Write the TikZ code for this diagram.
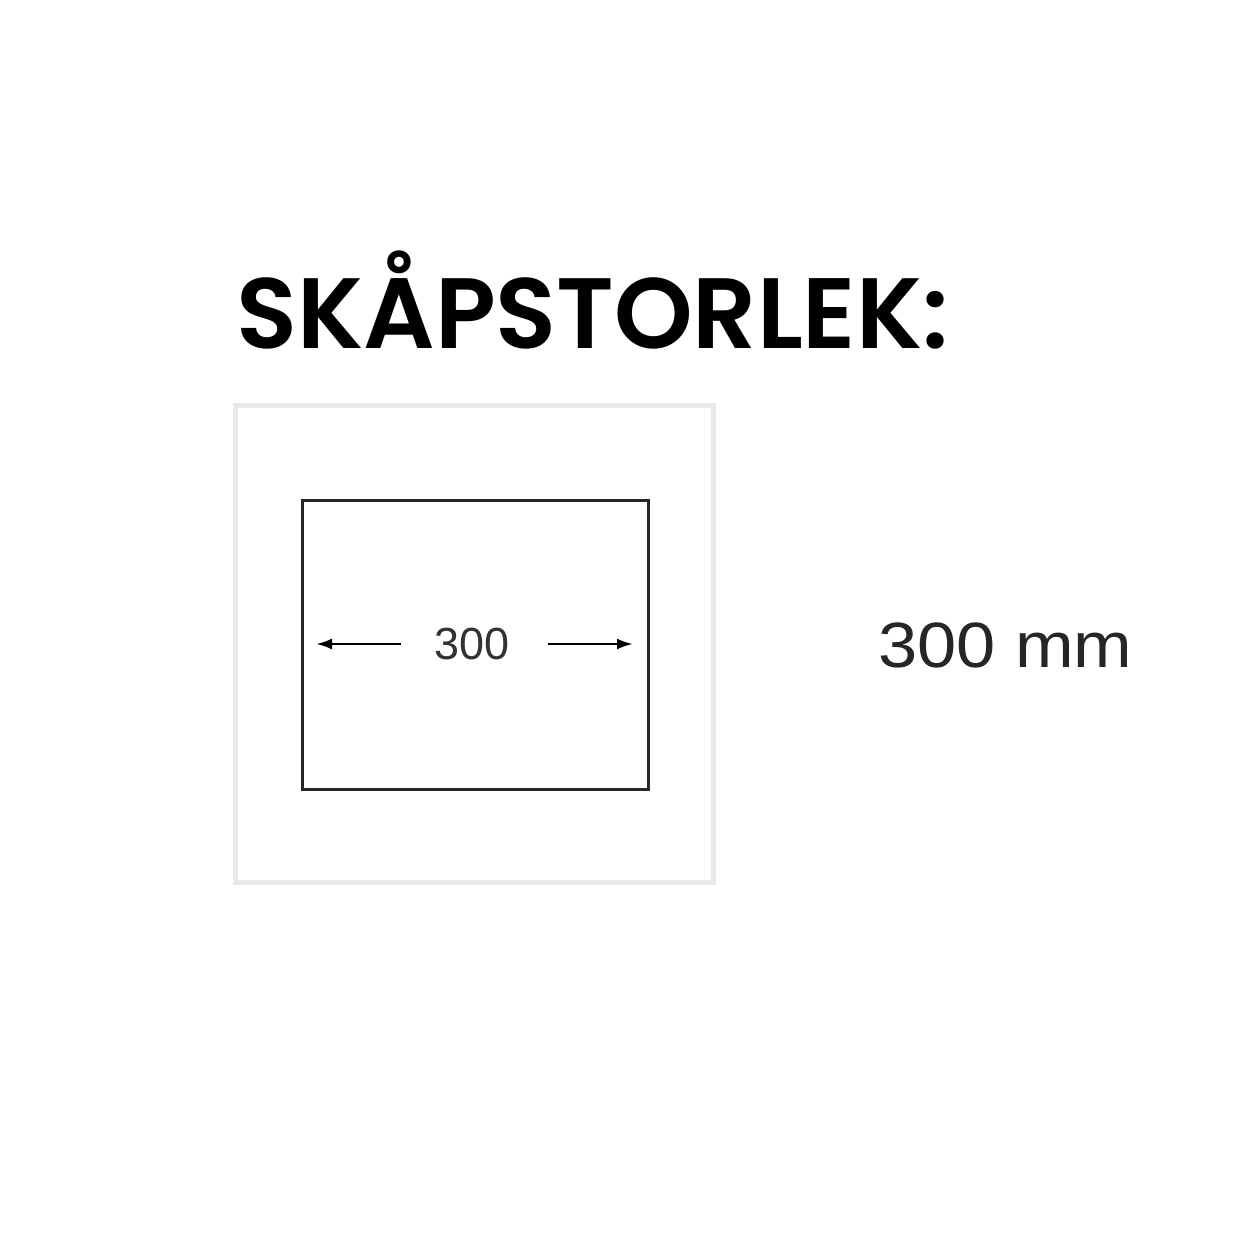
\documentclass[tikz,border=0pt]{standalone}
\usepackage{fontspec}
\setmainfont{Liberation Sans}
\newfontfamily\titlefont{Poppins}[UprightFont=* SemiBold]
\newfontfamily\widefont{Liberation Sans}[FakeStretch=1.1]
\usetikzlibrary{arrows.meta}
\begin{document}
\begin{tikzpicture}[x=1pt,y=-1pt,
  outerbox/.style={draw=black!9,line width=5pt},
  innerbox/.style={draw=black!85,line width=2.5pt},
  dimarrow/.style={draw=black,line width=2.6pt,-{Latex[length=16pt,width=11pt]}},
  titletext/.style={inner sep=0pt,anchor=west,font=\titlefont\fontsize{100}{110}\selectfont},
  dimtext/.style={inner sep=0pt,font=\fontsize{45}{50}\selectfont,text=black!80},
  sizetext/.style={inner sep=0pt,anchor=west,font=\widefont\fontsize{64}{70}\selectfont,text=black!85}]
\useasboundingbox (0,0) rectangle (1240,1240);
\node[titletext] (title) at (236,300) {SKÅPSTORLEK:};
\draw[outerbox] (235,405) rectangle (713,882);
\node[innerbox,minimum width=346pt,minimum height=289pt,anchor=north west,inner sep=0pt] (inner) at (301,499) {};
\node[dimtext] (dim) at (472,644) {300};
\coordinate (ls) at (401,644);
\coordinate (lt) at (316,644);
\coordinate (rs) at (548,644);
\coordinate (rt) at (633,644);
\draw[dimarrow] (ls) -- (lt);
\draw[dimarrow] (rs) -- (rt);
\node[sizetext] (size) at (878,645) {300 mm};
\end{tikzpicture}
\end{document}
